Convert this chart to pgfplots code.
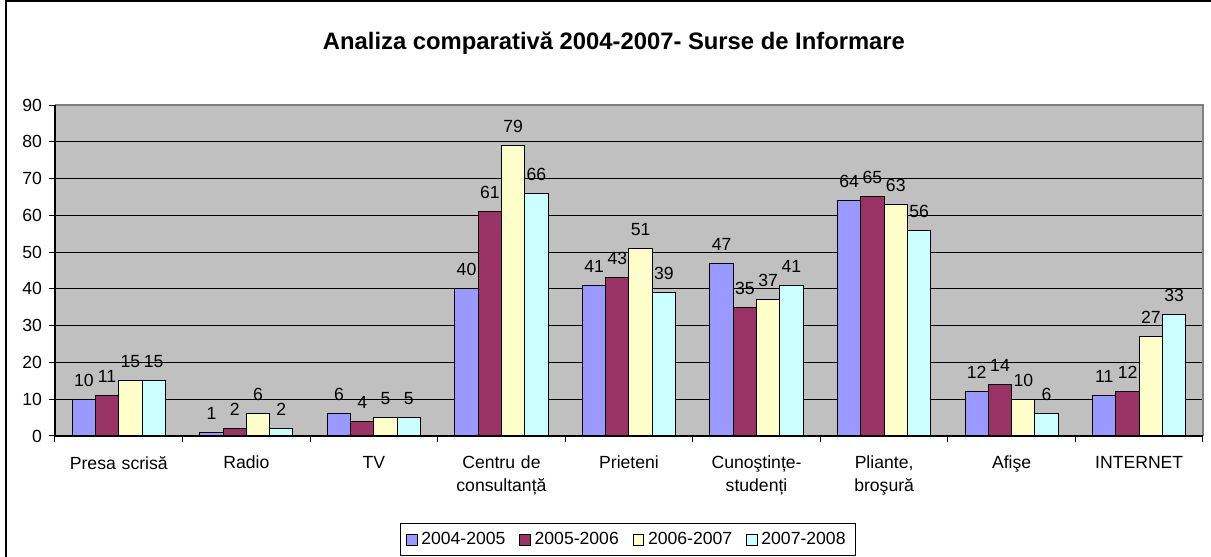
\documentclass[border=0pt]{standalone}
\usepackage{fontspec}
\setmainfont{Liberation Sans}
\usepackage{pgfplots}
\pgfplotsset{compat=1.18}
\definecolor{sA}{HTML}{9999FF}
\definecolor{sB}{HTML}{993366}
\definecolor{sC}{HTML}{FFFFCC}
\definecolor{sD}{HTML}{CCFFFF}
\definecolor{plotbg}{HTML}{C0C0C0}
\definecolor{brd}{HTML}{808080}
\pgfplotsset{
  mybar/.style={fill=#1, draw=black, line width=0.5pt,
    legend image code/.code={\draw[fill=#1,draw=black,line width=0.4pt] (0pt,-2.6pt) rectangle (5.2pt,2.6pt);}}
}
\newcommand{\lf}{\fontsize{8.8}{11}\selectfont}
\begin{document}
\begin{tikzpicture}
\useasboundingbox (0,0) rectangle (605.5pt,278.5pt);
\draw[line width=1pt] (3pt,-1pt) -- (3pt,278pt) -- (606pt,278pt);
\node[anchor=base, font=\bfseries\fontsize{11.9}{14}\selectfont] at (307pt,253.5pt) {Analiza comparativă 2004-2007- Surse de Informare};
\begin{axis}[
  name=ax, at={(27.5pt,60.5pt)}, anchor=south west,
  scale only axis, width=574pt, height=165.5pt,
  xmin=0, xmax=9, ymin=0, ymax=90,
  ybar=0pt, bar width=0.1826,
  xtick={0.5,1.5,...,8.5},
  xticklabels={Presa scrisă,Radio,TV,Centru de\\consultanță,Prieteni,Cunoştințe-\\studenți,{Pliante,\\broşură},Afişe,INTERNET},
  major x tick style={draw=none},
  minor xtick={0,1,...,9},
  xtick pos=bottom, ytick pos=left,
  ytick={0,10,...,90},
  ymajorgrids, grid style={black, line width=0.5pt},
  tick align=outside, major tick length=3pt, minor tick length=3pt,
  tick style={black, line width=0.5pt},
  axis line style={draw=none},
  axis background/.style={fill=plotbg},
  /pgf/number format/assume math mode=true,
  ticklabel style={font=\lf},
  xticklabel style={text width=60pt, align=center, font=\fontsize{8.8}{11.2}\selectfont, yshift=-3.5pt},
  nodes near coords,
  nodes near coords style={font=\lf, anchor=base, yshift=6.5pt},
  legend columns=4,
  legend style={at={(0.499,-0.314)}, anchor=center, draw=black, line width=0.5pt, font=\lf,
    inner xsep=3pt, inner ysep=2.2pt,
    /tikz/every even column/.append style={column sep=5pt}},
  legend cell align=left,
]
\addplot[mybar=sA] coordinates {(0.5,10) (1.5,1) (2.5,6) (3.5,40) (4.5,41) (5.5,47) (6.5,64) (7.5,12) (8.5,11)};
\addplot[mybar=sB] coordinates {(0.5,11) (1.5,2) (2.5,4) (3.5,61) (4.5,43) (5.5,35) (6.5,65) (7.5,14) (8.5,12)};
\addplot[mybar=sC] coordinates {(0.5,15) (1.5,6) (2.5,5) (3.5,79) (4.5,51) (5.5,37) (6.5,63) (7.5,10) (8.5,27)};
\addplot[mybar=sD] coordinates {(0.5,15) (1.5,2) (2.5,5) (3.5,66) (4.5,39) (5.5,41) (6.5,56) (7.5,6) (8.5,33)};
\legend{2004-2005,2005-2006,2006-2007,2007-2008}
\end{axis}
\draw[brd, line width=1pt] (ax.north west) -- (ax.north east) -- (ax.south east);
\draw[black, line width=0.6pt] (ax.north west) -- (ax.south west) -- (ax.south east);
\end{tikzpicture}
\end{document}
